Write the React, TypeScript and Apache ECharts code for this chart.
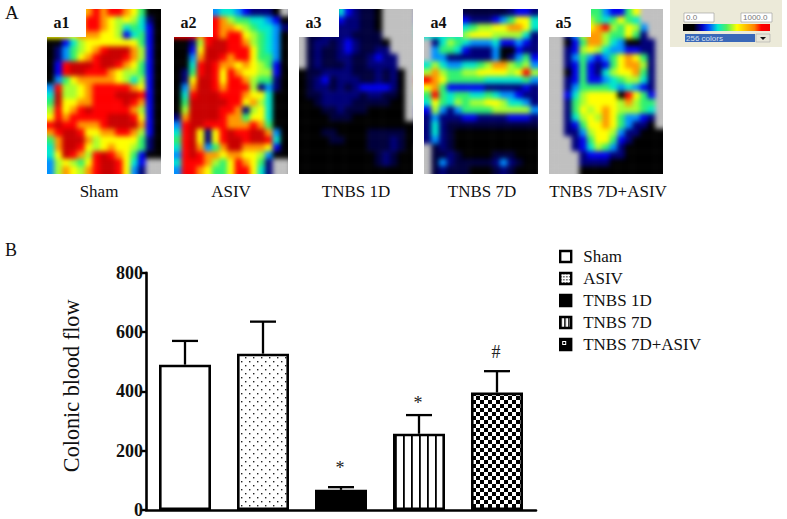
import React, { useEffect, useRef } from "react";
import * as echarts from "echarts";

const categories = ["Sham", "ASIV", "TNBS 1D", "TNBS 7D", "TNBS 7D+ASIV"];
const flowMeans = [490, 527, 68, 257, 396];
const flowErrorTops = [570, 635, 77, 320, 468];
const significance = ["", "", "*", "*", "#"];
const yTicks = [0, 200, 400, 600, 800];
const panelLabels = ["a1", "a2", "a3", "a4", "a5"];

// Laser-Doppler maps, one character per cell:
// 0 black, n deep navy, 1 navy, 2 blue, 3 azure, 4 cyan, 5 green, 6 lime, 7 yellow, 8 orange, 9 red, a dark red, g grey
const mapA1 = [
  "777778989987500", "777779987676410", "777779987645420", "777788877624520", "002467777777520",
  "01356789aaa8620", "0135789aaa98620", "029aaa9aa987520", "029aa9998766520", "035788888764620",
  "396678999998720", "4a6678999aaa920", "5a77889999a9820", "69789a999998620", "79899999aaa9720",
  "9a998889aaaa820", "89aa97788998620", "58aaa8677777510", "48aa97678776510", "47a9869a9875200",
  "3676579aa9742gg", "3687689aa9731gg",
];
const mapA2 = [
  "33333344321110g", "999999865544320", "999999887654431", "999899899765430", "00169aa99865430",
  "0027aaa99975430", "0038aa989975530", "0049a9887876520", "0159a9798776620", "017aa9799865510",
  "038aa9899961310", "049aaa999877400", "05aaaaa99786400", "06aaaa998167400", "18aaaa988577400",
  "39aa99988898500", "49a7179a99aa830", "59a7179aa9aa940", "49a8358aa888720", "39a988788776300",
  "4999865798751gg", "3998755799741gg",
];
const mapA3 = [
  "11111421nn0gggg", "11111211nn0gggg", "nn111111nn0gggg", "gnn1111nnnngggg", "gn11n121nnn0ggg",
  "gn1nn121nn11ggg", "gn1nn11nn1211gg", "gn1nnn1nn1111gg", "0nn1111nnn1n10g", "0n12n111nn1n10g",
  "0n11n1n1222210g", "0nn11111n11nn0g", "00n1111nnnnn00g", "000nn1nnn00000g", "0000nnn0000000g",
  "000000000000000", "000nn0000nnnnn0", "0000nn000nnn1n0", "000000000nnn1n0", "0000000000n1n00",
  "0000000000n1n00", "000000000000000",
];
const mapA4 = [
  "11111nnnnnn1221", "222222111235774", "444444566778874", "444446777666641", "g14654333422321",
  "g35542111300211", "g33111111301352", "464334456886563", "686556677776796", "987555554444453",
  "785222221111121", "595455445433211", "475465667764431", "263135555666663", "131112211112221",
  "141nnnnnnnnnnnn", "141n00000000000", "131n00000000000", "gn1n00000000000", "gnn1n0000nnn000",
  "gn31nnnnn131n00", "gn1nnn000n1n000",
];
const mapA5 = [
  "555555532257ggg", "666666545754ggg", "6666678965763gg", "gg13688655751gg", "gg025886430011g",
  "gg126764332211g", "gg135323578751g", "gg125212578861g", "gg025214677851g", "gg125223456641g",
  "gg135555434321g", "gg246777709752g", "gg156777768655g", "gg157678766654g", "gg146768753321g",
  "gg125778753110g", "gg1136776311000", "ggg125775210000", "ggg124653100000", "gggg12221100000",
  "gggg11110000000", "gggg00000000000",
];
const heatMaps = [mapA1, mapA2, mapA3, mapA4, mapA5];
const heatColors = ["#000000", "#000078", "#0000f0", "#0090ff", "#00e8d0", "#30f070", "#a8ff30", "#ffff00", "#ff9800", "#ff0000", "#c80000", "#c0c0c0"];

const PANEL_X = [47, 174, 299, 424, 549];
const PANEL_W = 114;
const PANEL_Y = 9;
const PANEL_H = 165;
const NOTCH_W = [39, 39, 40, 39, 42];
const CAPTION_X = [99, 231, 356, 482, 608];
const MARK_GAP = [0, 0, 10, 3, 10];
const COLS = 15;
const ROWS = 22;
const codeValue = (c: string) => (c === "g" ? 11 : c === "a" ? 10 : c === "n" ? 0.5 : Number(c));

function tile(size: number, draw: (c: CanvasRenderingContext2D) => void) {
  const cv = document.createElement("canvas");
  cv.width = size;
  cv.height = size;
  const c = cv.getContext("2d")!;
  c.fillStyle = "#fff";
  c.fillRect(0, 0, size, size);
  c.fillStyle = "#000";
  draw(c);
  return { image: cv, repeat: "repeat" } as any;
}

const SERIF = '"Liberation Serif", "Times New Roman", serif';

export default function App() {
  const heatRef = useRef<HTMLDivElement>(null);
  const chartRef = useRef<HTMLDivElement>(null);

  useEffect(() => {
    const heat = echarts.init(heatRef.current!, undefined, { renderer: "svg" });
    const cellW = PANEL_W / COLS;
    const cellH = PANEL_H / ROWS;
    const paddedCats = (n: number) => Array.from({ length: n + 2 }, (_, i) => String(i));
    heat.setOption({
      animation: false,
      grid: PANEL_X.map((x) => ({ left: x - cellW, top: PANEL_Y - cellH, width: PANEL_W + 2 * cellW, height: PANEL_H + 2 * cellH })),
      xAxis: PANEL_X.map((_, i) => ({ type: "category", gridIndex: i, show: false, data: paddedCats(COLS) })),
      yAxis: PANEL_X.map((_, i) => ({ type: "category", gridIndex: i, show: false, inverse: true, data: paddedCats(ROWS) })),
      visualMap: { show: false, type: "continuous", min: 0, max: 11, dimension: 2, inRange: { color: heatColors } },
      series: heatMaps.map((rows, i) => {
        const data: number[][] = [];
        for (let r = -1; r <= ROWS; r++) {
          const row = rows[Math.min(ROWS - 1, Math.max(0, r))];
          for (let k = -1; k <= COLS; k++) {
            data.push([k + 1, r + 1, codeValue(row[Math.min(COLS - 1, Math.max(0, k))])]);
          }
        }
        return { type: "heatmap", xAxisIndex: i, yAxisIndex: i, data, progressive: 0, itemStyle: { borderWidth: 0 } };
      }),
    });

    const chart = echarts.init(chartRef.current!, undefined, { renderer: "svg" });
    const dots = tile(8, (c) => {
      c.fillStyle = "#222";
      c.fillRect(1, 1, 1.4, 1.4);
      c.fillRect(5, 5, 1.4, 1.4);
    });
    const stripes = tile(8, (c) => c.fillRect(3, 0, 1.8, 8));
    const checks = tile(8, (c) => {
      c.fillRect(0, 0, 4, 4);
      c.fillRect(4, 4, 4, 4);
    });
    const fills: any[] = ["#fff", dots, "#000", stripes, checks];
    const legendFills: any[] = [
      "#fff",
      tile(3, (c) => {
        c.fillStyle = "#555";
        c.fillRect(0, 0, 1.5, 1.5);
      }),
      "#000",
      tile(4, (c) => c.fillRect(0, 0, 1.5, 4)),
      tile(8, (c) => {
        c.fillRect(0, 0, 2, 8);
        c.fillRect(6, 0, 2, 8);
        c.fillRect(0, 0, 8, 2);
        c.fillRect(0, 6, 8, 2);
        c.fillRect(3, 3, 2, 2);
      }),
    ];

    const maskRects: any[] = [];
    const mask = (x: number, y: number, width: number, height: number) =>
      maskRects.push({ type: "rect", shape: { x, y, width, height }, style: { fill: "#fff" }, silent: true });
    mask(0, 0, PANEL_X[0], 200);
    PANEL_X.forEach((x, i) => {
      const next = i < PANEL_X.length - 1 ? PANEL_X[i + 1] : 787;
      mask(x + PANEL_W, 0, next - x - PANEL_W, 200);
      mask(x, PANEL_Y, NOTCH_W[i], 28);
    });
    mask(0, 0, 787, PANEL_Y);
    mask(0, PANEL_Y + PANEL_H, 787, 30);

    const txt = (text: string, x: number, y: number, font: string, align = "left", fill = "#111") => ({
      type: "text",
      x,
      y,
      silent: true,
      style: { text, font, fill, textAlign: align, textVerticalAlign: "middle" },
    });

    const widget: any[] = [
      { type: "rect", shape: { x: 670, y: 0, width: 112, height: 47 }, style: { fill: "#ecead9" } },
      { type: "rect", shape: { x: 684, y: 13, width: 30, height: 9 }, style: { fill: "#fff", stroke: "#999", lineWidth: 0.6 } },
      { type: "rect", shape: { x: 741, y: 13, width: 31, height: 9 }, style: { fill: "#fff", stroke: "#999", lineWidth: 0.6 } },
      txt("0.0", 686, 17.5, `8px "Liberation Sans"`, "left", "#777"),
      txt("1000.0", 743, 17.5, `8px "Liberation Sans"`, "left", "#777"),
      {
        type: "rect",
        shape: { x: 683, y: 24, width: 87, height: 7 },
        style: {
          fill: new echarts.graphic.LinearGradient(0, 0, 1, 0, [
            { offset: 0, color: "#000" },
            { offset: 0.12, color: "#000" },
            { offset: 0.22, color: "#0000c0" },
            { offset: 0.3, color: "#0050ff" },
            { offset: 0.4, color: "#00e8d0" },
            { offset: 0.5, color: "#50f060" },
            { offset: 0.62, color: "#ffff00" },
            { offset: 0.82, color: "#ff8000" },
            { offset: 0.9, color: "#ff0000" },
            { offset: 1, color: "#f00000" },
          ]),
        },
      },
      { type: "rect", shape: { x: 685, y: 34, width: 70, height: 8 }, style: { fill: "#3a68b8" } },
      txt("256 colors", 686, 38, `8px "Liberation Sans"`, "left", "#d8e0f0"),
      { type: "rect", shape: { x: 756, y: 34, width: 14, height: 8 }, style: { fill: "#e8e6d8", stroke: "#aaa", lineWidth: 0.6 } },
      { type: "polygon", shape: { points: [[760, 37], [766, 37], [763, 40]] }, style: { fill: "#111" } },
    ];

    const texts: any[] = [
      txt("A", 5, 12, `19px ${SERIF}`),
      txt("B", 5, 250, `18px ${SERIF}`),
      ...panelLabels.map((l, i) => txt(l, PANEL_X[i] + 6.5, 22, `bold 16px ${SERIF}`)),
      ...categories.map((c, i) => txt(c, CAPTION_X[i], 191, `17px ${SERIF}`, "center")),
    ];

    chart.setOption({
      animation: false,
      backgroundColor: "transparent",
      textStyle: { fontFamily: SERIF },
      graphic: { elements: [...maskRects, ...widget, ...texts] },
      grid: { left: 146, top: 272.7, width: 390, height: 237.3 },
      legend: {
        orient: "vertical",
        left: 554,
        top: 243,
        itemWidth: 11,
        itemHeight: 11,
        itemGap: 5,
        icon: "rect",
        selectedMode: false,
        textStyle: { fontFamily: SERIF, fontSize: 17, color: "#111", padding: [0, 0, 0, 7] },
        data: categories.map((name, i) => ({
          name,
          itemStyle: { color: legendFills[i], borderColor: "#000", borderWidth: 2.4 },
        })),
      },
      xAxis: {
        type: "category",
        data: categories,
        axisLine: { lineStyle: { color: "#000", width: 2.6 } },
        axisTick: { show: false },
        axisLabel: { show: false },
      },
      yAxis: {
        type: "value",
        min: yTicks[0],
        max: yTicks[yTicks.length - 1],
        interval: yTicks[1] - yTicks[0],
        name: "Colonic blood flow",
        nameLocation: "middle",
        nameGap: 64,
        nameRotate: 90,
        nameTextStyle: { fontFamily: SERIF, fontSize: 22.2, color: "#111", padding: [0, 0, 0, 11] },
        splitLine: { show: false },
        axisLine: { show: true, lineStyle: { color: "#000", width: 2.6 } },
        axisTick: { show: true, length: 6, lineStyle: { color: "#000", width: 2.4 } },
        axisLabel: { fontFamily: SERIF, fontWeight: "bold", fontSize: 18, color: "#111", margin: 3 },
      },
      series: [
        ...categories.map((name, i) => ({
          type: "bar",
          name,
          barWidth: 52,
          barGap: "-100%",
          data: categories.map((_, k) => (k === i ? flowMeans[i] : null)),
          itemStyle: { color: fills[i], borderColor: "#000", borderWidth: 2.6 },
          z: 3,
        })),
        {
          type: "custom",
          name: "error",
          silent: true,
          z: 2,
          data: categories.map((_, i) => [i, flowErrorTops[i], flowMeans[i]]),
          encode: { x: 0, y: 1 },
          renderItem: (params: any, api: any) => {
            const top = api.coord([api.value(0), api.value(1)]);
            const base = api.coord([api.value(0), api.value(2)]);
            const s = { stroke: "#000", lineWidth: 2.3 };
            const mark = significance[params.dataIndex];
            const children: any[] = [
              { type: "line", shape: { x1: top[0], y1: top[1], x2: base[0], y2: base[1] }, style: s },
              { type: "line", shape: { x1: top[0] - 13, y1: top[1], x2: top[0] + 13, y2: top[1] }, style: s },
            ];
            if (mark) {
              children.push({
                type: "text",
                style: {
                  text: mark,
                  x: top[0] - 1,
                  y: top[1] - MARK_GAP[params.dataIndex],
                  font: `18px ${SERIF}`,
                  fill: "#222",
                  textAlign: "center",
                  textVerticalAlign: "bottom",
                },
              });
            }
            return { type: "group", children };
          },
        },
      ],
    });
    return () => {
      chart.dispose();
      heat.dispose();
    };
  }, []);

  const layer: React.CSSProperties = { position: "fixed", left: 0, top: 0, width: 787, height: 519 };
  return (
    <div style={{ ...layer, background: "#fff", overflow: "hidden" }}>
      <div ref={heatRef} style={{ ...layer, filter: "blur(2.8px)" }} />
      <div ref={chartRef} style={layer} />
    </div>
  );
}
